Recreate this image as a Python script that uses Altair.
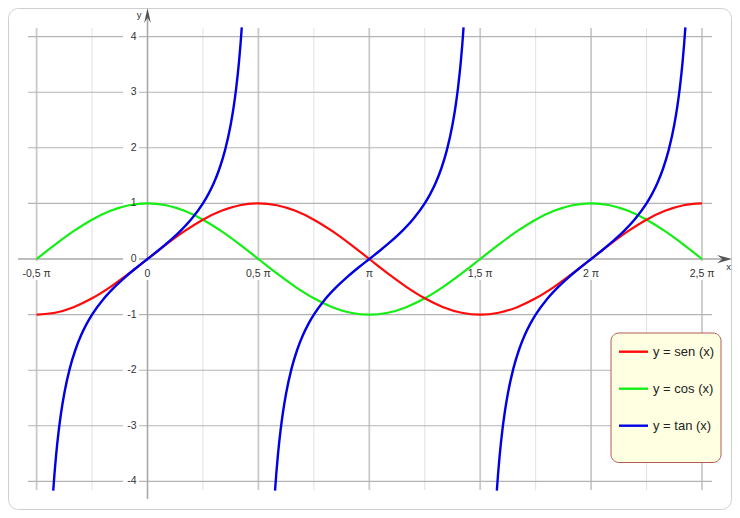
import altair as alt
import pandas as pd

# ---------------- data (x in degrees, y values) ----------------
deg = [-90, -75, -60, -45, -30, -15, 0, 15, 30, 45, 60, 75, 90, 105, 120, 135, 150, 165,
       180, 195, 210, 225, 240, 255, 270, 285, 300, 315, 330, 345, 360, 375, 390, 405,
       420, 435, 450]
sin_vals = [-1, -0.966, -0.866, -0.707, -0.5, -0.259, 0, 0.259, 0.5, 0.707, 0.866, 0.966, 1,
            0.966, 0.866, 0.707, 0.5, 0.259, 0, -0.259, -0.5, -0.707, -0.866, -0.966, -1,
            -0.966, -0.866, -0.707, -0.5, -0.259, 0, 0.259, 0.5, 0.707, 0.866, 0.966, 1]
cos_vals = [0, 0.259, 0.5, 0.707, 0.866, 0.966, 1, 0.966, 0.866, 0.707, 0.5, 0.259, 0,
            -0.259, -0.5, -0.707, -0.866, -0.966, -1, -0.966, -0.866, -0.707, -0.5, -0.259, 0,
            0.259, 0.5, 0.707, 0.866, 0.966, 1, 0.966, 0.866, 0.707, 0.5, 0.259, 0]

tan1_deg = [-76.5, -75.5, -74.25, -72, -70, -67.5, -63, -58.5, -54, -49.5, -45, -36, -27, -18, -9,
            0, 9, 18, 27, 36, 45, 49.5, 54, 58.5, 63, 67.5, 70, 72, 74.25, 75.5, 76.5]
tan1_vals = [-4.165, -3.867, -3.546, -3.078, -2.747, -2.414, -1.963, -1.632, -1.376, -1.171, -1,
             -0.727, -0.51, -0.325, -0.158, 0, 0.158, 0.325, 0.51, 0.727, 1, 1.171, 1.376, 1.632,
             1.963, 2.414, 2.747, 3.078, 3.546, 3.867, 4.165]
tan2_deg = [103.5, 104.5, 105.75, 108, 110, 112.5, 117, 121.5, 126, 130.5, 135, 144, 153, 162, 171,
            180, 189, 198, 207, 216, 225, 229.5, 234, 238.5, 243, 247.5, 250, 252, 254.25, 255.5, 256.5]
tan2_vals = [-4.165, -3.867, -3.546, -3.078, -2.747, -2.414, -1.963, -1.632, -1.376, -1.171, -1,
             -0.727, -0.51, -0.325, -0.158, 0, 0.158, 0.325, 0.51, 0.727, 1, 1.171, 1.376, 1.632,
             1.963, 2.414, 2.747, 3.078, 3.546, 3.867, 4.165]
tan3_deg = [283.5, 284.5, 285.75, 288, 290, 292.5, 297, 301.5, 306, 310.5, 315, 324, 333, 342, 351,
            360, 369, 378, 387, 396, 405, 409.5, 414, 418.5, 423, 427.5, 430, 432, 434.25, 435.5, 436.5]
tan3_vals = [-4.165, -3.867, -3.546, -3.078, -2.747, -2.414, -1.963, -1.632, -1.376, -1.171, -1,
             -0.727, -0.51, -0.325, -0.158, 0, 0.158, 0.325, 0.51, 0.727, 1, 1.171, 1.376, 1.632,
             1.963, 2.414, 2.747, 3.078, 3.546, 3.867, 4.165]

series_names = ["y = sen (x)", "y = cos (x)", "y = tan (x)"]
series_colors = ["#ff0a0a", "#14ee14", "#0000e6"]

x_major = [-0.5, 0.5, 1, 1.5, 2, 2.5]          # multiples of pi
x_minor = [-0.25, 0.25, 0.75, 1.25, 1.75, 2.25]
y_grid = [-4, -3, -2, -1, 1, 2, 3, 4]
y_ticks = [4, 3, 2, 1, 0, -1, -2, -3, -4]
y_labels = ["4", "3", "2", "1", "0", "-1", "-2", "-3", "-4"]
x_ticks = [-0.5, 0, 0.5, 1, 1.5, 2, 2.5]
x_labels = ["-0,5 π", "0", "0,5 π", "π", "1,5 π", "2 π", "2,5 π"]

# ---------------- layout helpers ----------------
W, H = 724, 502
X0, PI_PX = 147.5, 221.8       # page px of x=0, px per pi
Y0, UNIT_PX = 259.0, 55.6      # page px of y=0, px per unit


def px2u(px):
    return (px - X0) / PI_PX


def py2y(py):
    return (Y0 - py) / UNIT_PX


XS = alt.Scale(domain=[px2u(8), px2u(8 + W)], nice=False, zero=False)
YS = alt.Scale(domain=[py2y(8 + H), py2y(8)], nice=False, zero=False)
FONT = "Liberation Sans"


def X(field="u"):
    return alt.X(f"{field}:Q", scale=XS, axis=None)


def Y(field="y"):
    return alt.Y(f"{field}:Q", scale=YS, axis=None)


layers = []

# outer rounded frame
frame = alt.Chart(pd.DataFrame({"a": [0]})).mark_rect(
    fill="white", stroke="#cfcfcf", strokeWidth=1, cornerRadius=10
).encode(x=alt.value(0.5), x2=alt.value(W - 0.5), y=alt.value(0.5), y2=alt.value(H - 0.5))
layers.append(frame)

# vertical grid
vtop, vbot = py2y(28), py2y(490)
minor_df = pd.DataFrame({"u": x_minor, "y": vbot, "y2": vtop})
layers.append(alt.Chart(minor_df).mark_rule(color="#e2e2e2", strokeWidth=1).encode(
    x=X(), y=Y(), y2="y2:Q"))
major_df = pd.DataFrame({"u": x_major, "y": vbot, "y2": vtop})
layers.append(alt.Chart(major_df).mark_rule(color="#cacaca", strokeWidth=1.8).encode(
    x=X(), y=Y(), y2="y2:Q"))

# horizontal grid
h_df = pd.DataFrame({"y": y_grid, "u": px2u(28), "u2": px2u(712)})
layers.append(alt.Chart(h_df).mark_rule(color="#b4b4b4", strokeWidth=1.1).encode(
    y=Y(), x=X(), x2="u2:Q"))

# axes
xaxis_df = pd.DataFrame({"y": [0], "u": [px2u(18)], "u2": [px2u(726)]})
layers.append(alt.Chart(xaxis_df).mark_rule(color="#a8a8a8", strokeWidth=1.6).encode(
    y=Y(), x=X(), x2="u2:Q"))
yaxis_df = pd.DataFrame({"u": [0], "y": [py2y(499)], "y2": [py2y(14)]})
layers.append(alt.Chart(yaxis_df).mark_rule(color="#a8a8a8", strokeWidth=1.6).encode(
    x=X(), y=Y(), y2="y2:Q"))

# white boxes behind tick labels
ybox_df = pd.DataFrame({"yc": y_ticks})
ybox_df["u"] = px2u(123)
ybox_df["u2"] = px2u(139)
ybox_df["y"] = ybox_df["yc"] - 6 / UNIT_PX
ybox_df["y2"] = ybox_df["yc"] + 6 / UNIT_PX
layers.append(alt.Chart(ybox_df).mark_rect(fill="white").encode(
    x=X(), x2="u2:Q", y=Y(), y2="y2:Q"))
xbox_df = pd.DataFrame({"uc": x_ticks})
xbox_df["u"] = xbox_df["uc"] - 13 / PI_PX
xbox_df["u2"] = xbox_df["uc"] + 13 / PI_PX
xbox_df["y"] = py2y(280)
xbox_df["y2"] = py2y(261)
layers.append(alt.Chart(xbox_df).mark_rect(fill="white").encode(
    x=X(), x2="u2:Q", y=Y(), y2="y2:Q"))

# arrows
arrow_r = "M1,0L-1,-0.55L-0.3,0L-1,0.55Z"
arrow_u = "M0,-1L0.45,1L0,0.3L-0.45,1Z"
layers.append(alt.Chart(pd.DataFrame({"u": [px2u(724.5)], "y": [0]})).mark_point(
    shape=arrow_r, filled=True, size=225, color="#555555", opacity=1, strokeWidth=0
).encode(x=X(), y=Y()))
layers.append(alt.Chart(pd.DataFrame({"u": [0], "y": [py2y(15.5)]})).mark_point(
    shape=arrow_u, filled=True, size=225, color="#555555", opacity=1, strokeWidth=0
).encode(x=X(), y=Y()))

# curves: cos, sin, tan (tan on top)
cos_df = pd.DataFrame({"u": [d / 180 for d in deg], "y": cos_vals})
sin_df = pd.DataFrame({"u": [d / 180 for d in deg], "y": sin_vals})
tan_parts = []
for b, (dd, vv) in enumerate([(tan1_deg, tan1_vals), (tan2_deg, tan2_vals), (tan3_deg, tan3_vals)]):
    tan_parts.append(pd.DataFrame({"u": [d / 180 for d in dd], "y": vv, "branch": b}))
tan_df = pd.concat(tan_parts, ignore_index=True)

layers.append(alt.Chart(cos_df).mark_line(color=series_colors[1], strokeWidth=2.2,
                                          interpolate="monotone").encode(x=X(), y=Y()))
layers.append(alt.Chart(sin_df).mark_line(color=series_colors[0], strokeWidth=2.2,
                                          interpolate="monotone").encode(x=X(), y=Y()))
layers.append(alt.Chart(tan_df).mark_line(color=series_colors[2], strokeWidth=2.4,
                                          interpolate="monotone").encode(
    x=X(), y=Y(), detail="branch:N"))

# tick labels
ylab_df = pd.DataFrame({"y": y_ticks, "t": y_labels, "u": px2u(136.5)})
layers.append(alt.Chart(ylab_df).mark_text(
    align="right", baseline="middle", font=FONT, fontSize=10.5, color="#333333"
).encode(x=X(), y=Y(), text="t:N"))
xlab_df = pd.DataFrame({"u": x_ticks, "t": x_labels, "y": py2y(276.5)})
layers.append(alt.Chart(xlab_df).mark_text(
    align="center", baseline="alphabetic", font=FONT, fontSize=10.5, color="#333333"
).encode(x=X(), y=Y(), text="t:N"))

# axis names
names_df = pd.DataFrame({"u": [px2u(139), px2u(728.5)], "y": [py2y(14.5), py2y(267)],
                         "t": ["y", "x"]})
layers.append(alt.Chart(names_df).mark_text(
    align="center", baseline="middle", font=FONT, fontSize=9.5, color="#333333"
).encode(x=X(), y=Y(), text="t:N"))

# legend box
lbox_df = pd.DataFrame({"u": [px2u(611)], "u2": [px2u(721)], "y": [py2y(462.5)], "y2": [py2y(333)]})
layers.append(alt.Chart(lbox_df).mark_rect(
    fill="#ffffe1", stroke="#b35a55", strokeWidth=1, cornerRadius=8
).encode(x=X(), x2="u2:Q", y=Y(), y2="y2:Q"))
leg_df = pd.DataFrame({"name": series_names, "row": [0, 1, 2]})
leg_df["y"] = [py2y(351.7 + 37 * r) for r in leg_df["row"]]
leg_df["u"] = px2u(619)
leg_df["u2"] = px2u(648)
leg_df["ut"] = px2u(653)
cscale = alt.Scale(domain=series_names, range=series_colors)
layers.append(alt.Chart(leg_df).mark_rule(strokeWidth=2.4).encode(
    x=X(), x2="u2:Q", y=Y(), color=alt.Color("name:N", scale=cscale, legend=None)))
layers.append(alt.Chart(leg_df).mark_text(
    align="left", baseline="middle", font=FONT, fontSize=13, color="#222222"
).encode(x=X("ut"), y=Y(), text="name:N"))

chart = alt.layer(*layers).properties(
    width=W, height=H, padding=0, autosize=alt.AutoSizeParams(type="none"),
    background="white"
).configure_view(stroke=None)

chart.save("out.html", embed_options={"renderer": "svg", "actions": False})
